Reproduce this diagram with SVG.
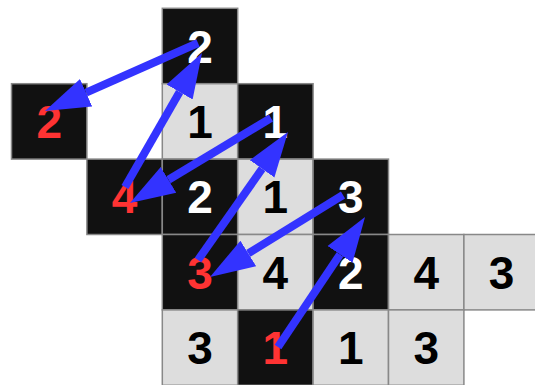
<svg xmlns="http://www.w3.org/2000/svg" width="535" height="385" viewBox="0 0 535 385">
<defs>
<style>
.b{fill:#111111;stroke:#888888;stroke-width:1.5}
.l{fill:#dddddd;stroke:#888888;stroke-width:1.5}
text{font-family:"Liberation Sans",Arial,sans-serif;font-weight:bold;font-size:46px;text-anchor:middle}
.tw{fill:#ffffff}.tk{fill:#000000}.tr{fill:#ff3333}
.a{stroke:#3333ff;stroke-width:8;fill:none;marker-end:url(#ah)}
</style>
<marker id="ah" markerUnits="userSpaceOnUse" viewBox="0 -16 46 32" refX="0" refY="0" markerWidth="46" markerHeight="32" orient="auto">
<path d="M0,-15 L45,0 L0,15 z" fill="#3333ff"/>
</marker>
</defs>
<rect width="535" height="385" fill="#ffffff"/>
<g id="r0c2"><rect class="b" x="162.3" y="8.3" width="75.4" height="75.4"/><text class="tw" x="200" y="62.5">2</text></g>
<g id="r1c0"><rect class="b" x="11.5" y="83.7" width="75.4" height="75.4"/><text class="tr" x="49.2" y="137.9">2</text></g>
<g id="r1c2"><rect class="l" x="162.3" y="83.7" width="75.4" height="75.4"/><text class="tk" x="200" y="137.9">1</text></g>
<g id="r1c3"><rect class="b" x="237.7" y="83.7" width="75.4" height="75.4"/><text class="tw" x="275.4" y="137.9">1</text></g>
<g id="r2c1"><rect class="b" x="86.9" y="159.1" width="75.4" height="75.4"/><text class="tr" x="124.6" y="213.3">4</text></g>
<g id="r2c2"><rect class="b" x="162.3" y="159.1" width="75.4" height="75.4"/><text class="tw" x="200" y="213.3">2</text></g>
<g id="r2c3"><rect class="l" x="237.7" y="159.1" width="75.4" height="75.4"/><text class="tk" x="275.4" y="213.3">1</text></g>
<g id="r2c4"><rect class="b" x="313.1" y="159.1" width="75.4" height="75.4"/><text class="tw" x="350.8" y="213.3">3</text></g>
<g id="r3c2"><rect class="b" x="162.3" y="234.5" width="75.4" height="75.4"/><text class="tr" x="200" y="288.7">3</text></g>
<g id="r3c3"><rect class="l" x="237.7" y="234.5" width="75.4" height="75.4"/><text class="tk" x="275.4" y="288.7">4</text></g>
<g id="r3c4"><rect class="b" x="313.1" y="234.5" width="75.4" height="75.4"/><text class="tw" x="350.8" y="288.7">2</text></g>
<g id="r3c5"><rect class="l" x="388.5" y="234.5" width="75.4" height="75.4"/><text class="tk" x="426.2" y="288.7">4</text></g>
<g id="r3c6"><rect class="l" x="463.9" y="234.5" width="75.4" height="75.4"/><text class="tk" x="501.6" y="288.7">3</text></g>
<g id="r4c2"><rect class="l" x="162.3" y="309.9" width="75.4" height="75.4"/><text class="tk" x="200" y="364.1">3</text></g>
<g id="r4c3"><rect class="b" x="237.7" y="309.9" width="75.4" height="75.4"/><text class="tr" x="275.4" y="364.1">1</text></g>
<g id="r4c4"><rect class="l" x="313.1" y="309.9" width="75.4" height="75.4"/><text class="tk" x="350.8" y="364.1">1</text></g>
<g id="r4c5"><rect class="l" x="388.5" y="309.9" width="75.4" height="75.4"/><text class="tk" x="426.2" y="364.1">3</text></g>
<g id="connectors">
<line class="a" x1="198" y1="43" x2="86.1" y2="92.7"/>
<line class="a" x1="125" y1="187" x2="179.6" y2="92"/>
<line class="a" x1="271" y1="118" x2="168.5" y2="179.8"/>
<line class="a" x1="198" y1="260" x2="262.1" y2="168.8"/>
<line class="a" x1="343" y1="195" x2="248.3" y2="253.4"/>
<line class="a" x1="278" y1="347" x2="340" y2="254.4"/>
</g>
</svg>
